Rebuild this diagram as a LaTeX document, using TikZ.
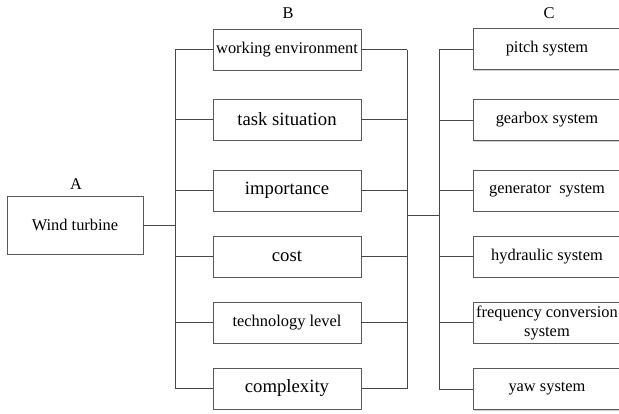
\documentclass[tikz,border=0pt]{standalone}
\usepackage{fontspec}
\setmainfont{Liberation Serif}
\usetikzlibrary{shadows}
\begin{document}
\begin{tikzpicture}[x=1pt,y=-1pt,
  conn/.style={draw=black!72,line width=0.9pt},
  boxb/.style={draw=black!65,line width=0.9pt,fill=white,minimum width=148pt,minimum height=41pt,inner sep=0pt,
    drop shadow={shadow xshift=1.2pt,shadow yshift=-1.2pt,fill=black!30,opacity=0.6}},
  small/.style={font=\fontsize{16.4}{19}\selectfont},
  big/.style={font=\fontsize{18.7}{21}\selectfont},
  lab/.style={font=\fontsize{16.4}{19}\selectfont,inner sep=0pt}]
\clip (0,0) rectangle (619,413);
\fill[white] (0,0) rectangle (619,413);
% labels
\node[lab] (la) at (76,184) {A};
\node[lab] (lb) at (288,13) {B};
\node[lab] (lc) at (549,13) {C};
% A
\node[boxb,small,minimum width=136pt,minimum height=58pt] (a) at (75,225) {Wind turbine};
% B
\node[boxb,small] (b1) at (287,49.5) {working environment};
\node[boxb,big] (b2) at (287,119.5) {task situation};
\node[boxb,big] (b3) at (287,190.5) {importance};
\node[boxb,big] (b4) at (287,256.5) {cost};
\node[boxb,small] (b5) at (287,322.5) {technology level};
\node[boxb,big] (b6) at (287,388.5) {complexity};
% C
\node[boxb,small] (c1) at (547,49) {pitch system};
\node[boxb,small] (c2) at (547,120) {gearbox system};
\node[boxb,small] (c3) at (547,190.5) {generator\ \ system};
\node[boxb,small] (c4) at (547,256.5) {hydraulic system};
\node[boxb,small,align=center] (c5) at (547,322.5) {\makebox[0pt]{frequency conversion}\\system};
\node[boxb,small] (c6) at (547,389) {yaw system};
% trunks
\coordinate (lt) at (175,225);
\coordinate (rt) at (407,215);
\coordinate (ct) at (439,215);
\draw[conn] (a.east) -- (lt);
\draw[conn] (b1.west -| lt) -- (b6.west -| lt);
\draw[conn] (b1.east -| rt) -- (b6.east -| rt);
\draw[conn] (rt) -- (ct);
\draw[conn] (c1.west -| ct) -- (c6.west -| ct);
\foreach \i in {1,...,6}{
  \draw[conn] (b\i.west) -- (b\i.west -| lt);
  \draw[conn] (b\i.east) -- (b\i.east -| rt);
  \draw[conn] (c\i.west) -- (c\i.west -| ct);
}
\end{tikzpicture}
\end{document}
